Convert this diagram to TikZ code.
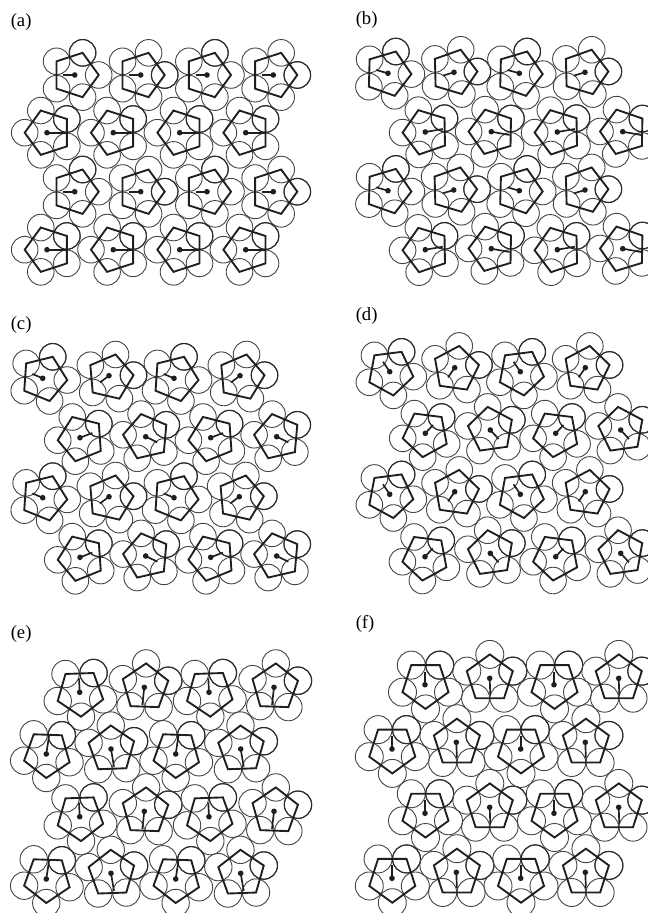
\documentclass[tikz,border=0pt]{standalone}
\usepackage{fontspec}
\setmainfont{Liberation Serif}
\definecolor{inkc}{gray}{0.12}
\definecolor{ringc}{gray}{0.27}
\definecolor{ringh}{gray}{0.17}
\tikzset{
  ring/.style={draw=ringc,line width=0.68pt},
  ringheavy/.style={draw=ringh,line width=0.85pt},
  pent/.style={draw=inkc,line width=1.4pt,line join=miter},
  stem/.style={draw=inkc,line width=1.25pt},
  knob/.style={fill=inkc},
  panellabel/.style={anchor=base west,inner sep=0pt,font=\fontsize{14}{14}\selectfont}
}
\def\Rad{23.3}\def\Crad{13.3}\def\Drad{2.8}
% x y | pentagon offset ox oy | vertex angle | stem tip tx ty | heavy vertex k
\newcommand\M[8]{%
  \begin{scope}[shift={(#1,-#2)}]
    \begin{scope}[shift={(#3,-#4)}]
      \foreach \k in {0,...,4}{\draw[ring] (#5+72*\k:\Rad) circle[radius=\Crad];}
      \draw[ringheavy] (#5+72*#8:\Rad) circle[radius=\Crad];
      \draw[pent] (#5:\Rad) -- (#5+72:\Rad) -- (#5+144:\Rad) -- (#5+216:\Rad) -- (#5+288:\Rad) -- cycle;
    \end{scope}
    \draw[stem] (0,0) -- (#6,-#7);
    \fill[knob] (0,0) circle[radius=\Drad];
  \end{scope}}
\newcommand\Row[6]{\TA{#1}{#5}\TB{#2}{#6}\TA{#3}{#5}\TB{#4}{#6}}
\begin{document}
\begin{tikzpicture}[x=0.75pt,y=0.75pt]
\useasboundingbox (0,0) rectangle (648,-913);
\clip (0,0) rectangle (648,-913);
\node[panellabel] (la) at (10.5,-27) {(a)};
\node[panellabel] (lb) at (355.5,-25) {(b)};
\node[panellabel] (lc) at (10.5,-329) {(c)};
\node[panellabel] (ld) at (355.5,-320) {(d)};
\node[panellabel] (le) at (10.5,-638) {(e)};
\node[panellabel] (lf) at (355.5,-628) {(f)};
% ---- panel a
\def\TA#1#2{\M{#1}{#2}{.7}{0}{0}{-11.3}{0}{1}}
\def\TB#1#2{\M{#1}{#2}{.7}{0}{0}{-11.3}{0}{0}}
\Row{74.7}{140.7}{207}{273.3}{75}{75}
\Row{74.7}{140.7}{207}{273.3}{191.7}{191.7}
\def\TA#1#2{\M{#1}{#2}{1}{0}{180}{19.7}{0}{3}}
\def\TB#1#2{\M{#1}{#2}{1}{0}{180}{19.7}{0}{3}}
\Row{47}{113.3}{179.7}{245.7}{132.7}{132.7}
\Row{47}{113.3}{179.7}{245.7}{249.7}{249.7}
% ---- panel b
\def\TA#1#2{\M{#1}{#2}{.1}{.2}{-1.5}{-11.7}{-3.3}{1}}
\def\TB#1#2{\M{#1}{#2}{.1}{-.2}{1.5}{-11}{3.3}{0}}
\Row{388}{454}{519.3}{585}{73.3}{72.3}
\Row{388}{453.7}{519.3}{585}{190.7}{190}
\def\TA#1#2{\M{#1}{#2}{.6}{.2}{181}{17.7}{-3}{3}}
\def\TB#1#2{\M{#1}{#2}{.6}{.2}{179}{18.3}{3.3}{3}}
\Row{425.3}{491.3}{557.3}{622.7}{132}{131.7}
\Row{425.3}{491.3}{557.3}{622.7}{249.7}{248.7}
% ---- panel c
\def\TA#1#2{\M{#1}{#2}{1.3}{.1}{-4}{-10.3}{-4.3}{1}}
\def\TB#1#2{\M{#1}{#2}{1.3}{1.5}{5}{-9}{6.7}{0}}
\Row{42.7}{109}{174}{240}{378.3}{375.7}
\Row{42.7}{109}{174}{239.3}{497.7}{496.7}
\def\TA#1#2{\M{#1}{#2}{1}{.9}{184}{12.3}{-4.7}{3}}
\def\TB#1#2{\M{#1}{#2}{.6}{.1}{175}{11.7}{5.7}{3}}
\Row{80}{145.7}{210.7}{276.7}{437.7}{436.7}
\Row{80}{145.7}{210.7}{276.7}{557.3}{556}
% ---- panel d
\def\TA#1#2{\M{#1}{#2}{.7}{.6}{-10.7}{-6.7}{-10}{1}}
\def\TB#1#2{\M{#1}{#2}{1.3}{1.3}{10}{-6.7}{9.7}{0}}
\Row{389.7}{454.7}{520.3}{585.3}{371.7}{367.7}
\Row{389.7}{454.7}{520.3}{585.3}{494.3}{491.7}
\def\TA#1#2{\M{#1}{#2}{.3}{.7}{190.8}{7.7}{-8.3}{3}}
\def\TB#1#2{\M{#1}{#2}{.6}{0}{170}{8.3}{9}{3}}
\Row{425.3}{490.3}{555.7}{620.7}{433.3}{430}
\Row{425}{490.3}{555.7}{620.7}{556.7}{553.3}
% ---- panel e
\def\Rad{23.9}\def\Crad{13.7}
\def\TA#1#2{\M{#1}{#2}{.5}{.5}{-88}{-.7}{-14}{2}}
\def\TB#1#2{\M{#1}{#2}{1}{0}{88}{-2}{17.7}{4}}
\Row{79.7}{144.3}{209}{274}{692.3}{687.3}
\Row{79.7}{144.3}{209}{274}{816.7}{811.3}
\def\TA#1#2{\M{#1}{#2}{.8}{.1}{-92}{2.7}{-18}{2}}
\def\TB#1#2{\M{#1}{#2}{.6}{.4}{92}{3}{17.7}{4}}
\Row{46.3}{111}{175.7}{240.7}{754}{749}
\Row{46.3}{111}{175.7}{240.7}{879}{873.3}
% ---- panel f
\def\Rad{24.2}\def\Crad{14}
\def\TA#1#2{\M{#1}{#2}{.5}{0}{-90}{0}{-13}{2}}
\def\TB#1#2{\M{#1}{#2}{.1}{.3}{90}{.6}{16.7}{4}}
\Row{425}{489.7}{554}{618.7}{684.7}{678.3}
\Row{425}{489.7}{554}{618.7}{813.3}{807.3}
\def\TA#1#2{\M{#1}{#2}{.3}{.2}{-90}{0}{-13}{2}}
\def\TB#1#2{\M{#1}{#2}{.6}{.6}{90}{.6}{16}{4}}
\Row{392}{456.3}{520.7}{585.3}{749}{742.3}
\Row{392}{456.3}{520.7}{585.3}{878.3}{872.3}
\end{tikzpicture}
\end{document}
